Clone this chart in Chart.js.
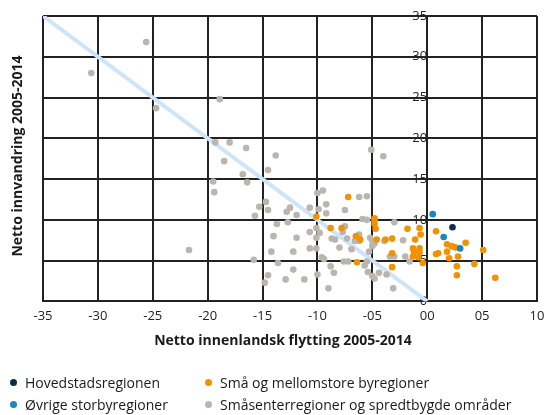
<!DOCTYPE html>
<html>
<head>
<meta charset="utf-8">
<script src="https://cdn.jsdelivr.net/npm/chart.js@4.4.1/dist/chart.umd.min.js"></script>
<style>
  body { margin: 0; background: #fff; font-family: "Open Sans", sans-serif; }
  #wrap { position: relative; width: 560px; height: 415px; }
  .axisTitle { position: absolute; font-weight: bold; font-size: 14px; line-height: 20px; color: #1a1a1a; text-align: center; white-space: nowrap; }
  #xTitle { left: 0; top: 330px; width: 566px; }
  #yTitle { left: -133px; top: 146px; width: 300px; transform: rotate(-90deg); }
  #legend { position: absolute; left: 0; top: 372px; width: 560px; font-size: 14px; color: #1a1a1a; }
  .item { position: absolute; white-space: nowrap; line-height: 22px; }
  .dot { display: inline-block; width: 7px; height: 7px; border-radius: 50%; margin-right: 8px; vertical-align: 2px; }
</style>
</head>
<body>
<div id="wrap">
  <canvas id="chart" width="560" height="415"></canvas>
  <div id="xTitle" class="axisTitle"></div>
  <div id="yTitle" class="axisTitle"></div>
  <div id="legend"></div>
</div>
<script>
/* ---------- data ---------- */
const xTickLabels = ["-35", "-30", "-25", "-20", "-15", "-10", "-05", "00", "05", "10"];
const yTickLabels = ["0", "5", "10", "15", "20", "25", "30", "35"];
const xTitle = "Netto innenlandsk flytting 2005-2014";
const yTitle = "Netto innvandring 2005-2014";

const seriesNames = [
  "Hovedstadsregionen",
  "Øvrige storbyregioner",
  "Små og mellomstore byregioner",
  "Småsenterregioner og spredtbygde områder"
];
const seriesColors = ["#0c2d4d", "#1a87c2", "#f39200", "#bab5ae"];

const hovedstadPts = [[2.3, 9.1]];

const storbyPts = [[0.5, 10.7], [1.5, 7.9], [3.0, 6.5]];

const byregionPts = [
  [-7.2, 12.8], [-10.1, 10.4], [-4.8, 10.2], [-4.8, 9.9], [-4.8, 9.5], [-4.7, 8.9],
  [-8.8, 9.0], [-7.8, 9.0], [-6.5, 8.0], [-6.1, 7.6], [-4.6, 7.6], [-3.8, 7.6],
  [-3.2, 7.7], [-1.8, 8.9], [-0.7, 9.0], [-0.6, 8.2], [-1.1, 7.6], [-1.3, 6.5],
  [-0.7, 6.5], [-1.2, 6.1], [-0.7, 6.0], [-1.3, 5.5], [-0.8, 5.4], [-0.4, 4.7],
  [-3.2, 5.9], [-3.2, 4.2], [-6.4, 4.8],
  [0.8, 8.6], [1.8, 7.0], [2.2, 6.8], [2.4, 6.7], [2.6, 6.6], [3.5, 7.2], [1.8, 6.1],
  [0.8, 5.8], [1.0, 5.9], [2.8, 5.5], [2.0, 5.3], [5.1, 6.3], [4.3, 4.6], [2.7, 4.3],
  [2.7, 3.2], [6.2, 2.9]
];

const smaasenterPts = [
  [-30.6, 28.0], [-25.6, 31.8], [-24.7, 23.7], [-18.9, 24.8], [-19.3, 19.5], [-18.0, 19.5],
  [-16.5, 18.8], [-18.5, 17.2], [-13.8, 17.9], [-16.8, 15.6], [-14.5, 16.1], [-19.5, 14.7],
  [-16.4, 14.6], [-19.4, 13.4], [-21.7, 6.3], [-14.7, 12.2], [-15.3, 11.6], [-14.5, 11.2],
  [-12.5, 11.5], [-10.7, 11.5], [-15.7, 10.5], [-13.7, 9.5], [-14.0, 8.0], [-14.2, 6.1],
  [-15.8, 5.1], [-13.6, 4.7], [-14.5, 3.2], [-14.8, 2.3], [-12.8, 11.0], [-11.9, 10.6],
  [-12.7, 9.7], [-11.9, 7.8], [-12.2, 6.1], [-10.7, 6.5], [-12.2, 3.9], [-12.9, 2.7],
  [-11.2, 2.7],
  [-5.1, 18.6], [-4.0, 17.8], [-10.0, 13.3], [-9.5, 13.6], [-6.2, 12.8], [-5.5, 12.9],
  [-9.9, 11.3], [-9.2, 11.9], [-7.5, 11.2], [-9.2, 10.8], [-5.9, 10.1], [-5.5, 10.0],
  [-3.0, 9.7], [-10.7, 8.5], [-10.1, 9.0], [-10.1, 7.8], [-9.8, 8.4], [-8.7, 7.7],
  [-8.4, 7.6], [-7.7, 8.5], [-7.5, 9.2], [-7.3, 7.7], [-6.2, 8.2], [-6.2, 7.4], [-6.6, 7.4],
  [-5.2, 7.8], [-5.0, 7.4], [-4.8, 7.1], [-3.9, 7.4], [-2.2, 7.5], [-10.1, 6.5], [-8.0, 6.6],
  [-6.9, 6.4], [-5.3, 6.1], [-5.0, 6.8], [-9.6, 5.4], [-9.4, 5.2], [-7.6, 4.9], [-7.2, 4.9],
  [-5.5, 4.9], [-3.4, 5.5], [-3.0, 5.5], [-2.0, 5.5], [-1.6, 4.9], [-8.8, 4.3], [-5.7, 4.4],
  [-5.4, 3.6], [-4.4, 3.5], [-3.7, 3.3], [-8.5, 3.5], [-10.0, 3.3], [-5.0, 3.1], [-4.8, 2.8],
  [-9.0, 1.6], [-3.1, 1.6]
];

// diagonal reference line: innvandring = -flytting
const diagonalPts = [[-35, 35], [0, 0]];

/* ---------- datasets ---------- */
const toXY = pts => pts.map(p => ({ x: p[0], y: p[1] }));
const allSeries = [hovedstadPts, storbyPts, byregionPts, smaasenterPts];

const datasets = allSeries.map((pts, i) => ({
  label: seriesNames[i],
  data: toXY(pts),
  backgroundColor: seriesColors[i],
  borderWidth: 0,
  pointRadius: 3.3,
  pointHoverRadius: 3.3,
  order: i + 1
}));

datasets.push({
  label: "diagonal",
  data: toXY(diagonalPts),
  showLine: true,
  borderColor: "#cfe5f7",
  borderWidth: 4,
  pointRadius: 0,
  order: 10
});

/* ---------- chart ---------- */
const gridColor = "#222222";

new Chart(document.getElementById("chart"), {
  type: "scatter",
  data: { datasets },
  options: {
    responsive: false,
    animation: false,
    layout: { padding: { left: 43, right: 23, top: 16, bottom: 84 } },
    plugins: { legend: { display: false }, tooltip: { enabled: false } },
    scales: {
      x: {
        type: "linear",
        min: -35,
        max: 10,
        ticks: {
          stepSize: 5,
          padding: 7,
          color: "#222",
          font: { family: "Open Sans", size: 13 },
          callback: v => xTickLabels[Math.round((v + 35) / 5)]
        },
        grid: { display: true, drawOnChartArea: true, color: gridColor, lineWidth: 2, drawTicks: false },
        border: { display: true, color: gridColor, width: 2 }
      },
      y: {
        type: "linear",
        position: { x: 0 },
        min: 0,
        max: 35,
        ticks: {
          stepSize: 5,
          padding: 3,
          color: "#222",
          font: { family: "Open Sans", size: 13 },
          callback: v => yTickLabels[Math.round(v / 5)]
        },
        grid: { display: true, drawOnChartArea: true, color: gridColor, lineWidth: 2, drawTicks: false },
        border: { display: true, color: gridColor, width: 2 }
      }
    }
  }
});

/* ---------- titles + legend (html) ---------- */
document.getElementById("xTitle").textContent = xTitle;
document.getElementById("yTitle").textContent = yTitle;

const legendBox = document.getElementById("legend");
const legendSlots = [
  { i: 0, left: 10, top: 0 },
  { i: 2, left: 205, top: 0 },
  { i: 1, left: 10, top: 22 },
  { i: 3, left: 205, top: 22 }
];
legendSlots.forEach(s => {
  const el = document.createElement("div");
  el.className = "item";
  el.style.left = s.left + "px";
  el.style.top = s.top + "px";
  el.innerHTML = `<span class="dot" style="background:${seriesColors[s.i]}"></span>${seriesNames[s.i]}`;
  legendBox.appendChild(el);
});
</script>
</body>
</html>
